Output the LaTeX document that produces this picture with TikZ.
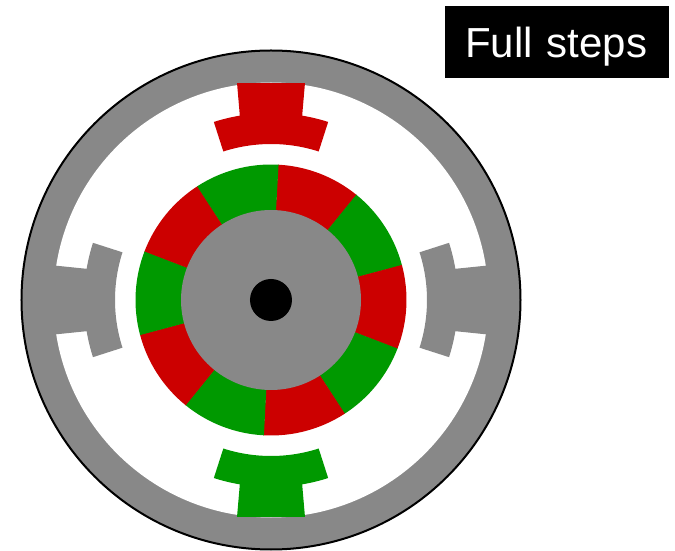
\documentclass[tikz,border=0pt]{standalone}
\usepackage{fontspec}
\setmainfont{Liberation Sans}
\usepackage{tikz}
\definecolor{motorgray}{HTML}{888888}
\definecolor{polered}{HTML}{CC0000}
\definecolor{polegreen}{HTML}{009900}
\tikzset{
  steplabel/.style={fill=black,text=white,minimum width=224pt,minimum height=72pt,
    inner sep=0pt,text depth=0pt,font=\fontsize{42pt}{50pt}\selectfont},
}
\begin{document}
\begin{tikzpicture}[x=1pt,y=1pt]
      \useasboundingbox (-271,-251) rectangle (404,300);
      \fill[white] (-271,-251) rectangle (404,300);
      % stator
      \draw[fill=motorgray,line width=2pt] (0,0) circle (249.5);
      \fill[white] (0,0) circle (217.5);
      \foreach \ang/\col/\rad in {90/polered/219.6,270/polegreen/219.6,0/motorgray/230,180/motorgray/230}
        \fill[\col,rotate=\ang] (-8.9:\rad) -- (-9.6:187) arc (-9.6:-17.8:187) -- (-17.8:156)
          arc (-17.8:17.8:156) -- (17.8:187) arc (17.8:9.6:187) -- (8.9:\rad) -- cycle;
      % rotor
      \foreach \ang/\col in {87/polered,51/polegreen,15/polered,-21/polegreen,-57/polered,
        -93/polegreen,-129/polered,-165/polegreen,-201/polered,-237/polegreen}
        \fill[\col,rotate=\ang] (0,0) -- (0:135.5) arc (0:-36.2:135.5) -- cycle;
      \fill[motorgray] (0,0) circle (90);
      \fill (0,0) circle (21);
      \node[steplabel,text width=224pt,align=center] (steps) at (286,258) {\kern-1.5pt Full steps};
    \end{tikzpicture}
\end{document}
